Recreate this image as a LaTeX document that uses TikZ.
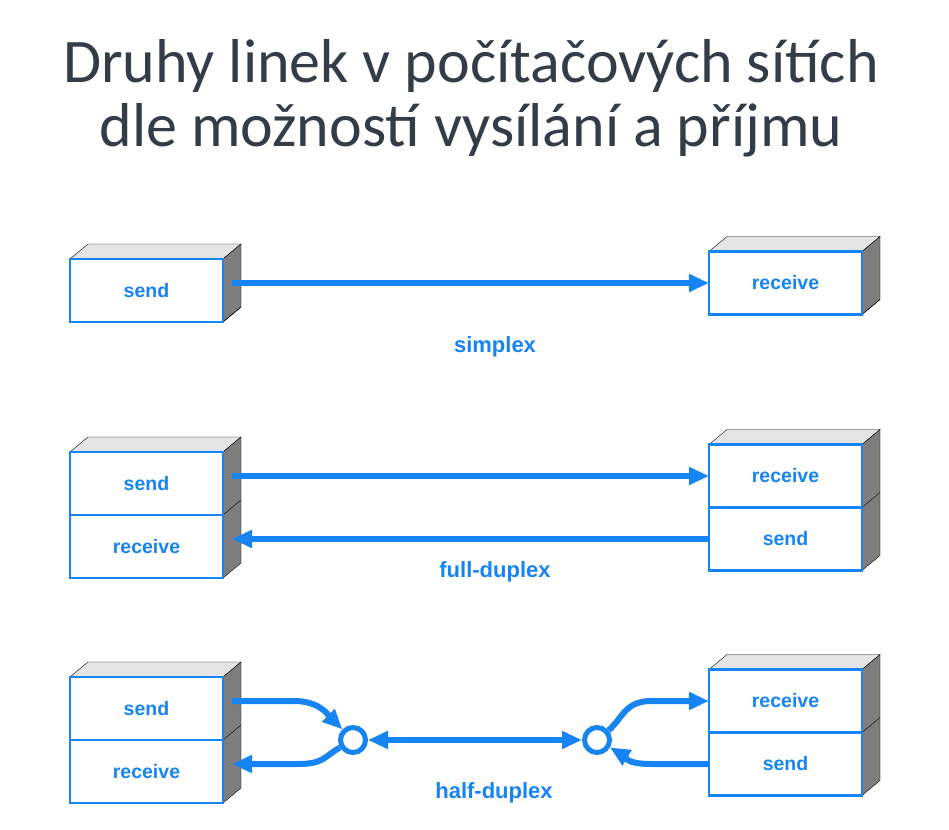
\documentclass[tikz,border=0pt]{standalone}
\usepackage{fontspec}
\setmainfont{Liberation Sans}
\newfontfamily\titlefont{Carlito}
\usetikzlibrary{arrows.meta,calc,positioning,backgrounds}

\definecolor{link_blue}{HTML}{1684F2}
\definecolor{title_grey}{HTML}{343C48}
\definecolor{top_grey}{HTML}{E4E4E4}
\definecolor{side_grey}{HTML}{7E7E7E}

\tikzset{
  headline/.style={text=title_grey, font=\titlefont\fontsize{62}{64}\selectfont, anchor=base},
  block/.style={draw=link_blue, line width=2.2pt, fill=white, minimum width=153pt,
    minimum height=63pt, inner sep=0pt, outer sep=0pt, text=link_blue,
    font=\fontsize{19.5}{20}\selectfont\bfseries},
  mode/.style={text=link_blue, font=\fontsize{22}{24}\selectfont\bfseries, anchor=base},
  wire/.style={draw=link_blue, line width=6pt},
  head/.style={-{Triangle[length=20pt,width=17pt]}},
  hub/.style={circle, draw=link_blue, line width=5pt, fill=white, minimum size=25pt, inner sep=0pt}
}

% top and side of a box, #1 = upper block, #2 = lower block
\newcommand\boxfaces[2]{
  \begin{scope}[on background layer, draw=black, line width=2pt]
    \filldraw[fill=top_grey] (#1.north west) -- ++(18,-15) -- ($(#1.north east)+(18,-15)$) -- (#1.north east) -- cycle;
    \filldraw[fill=side_grey] (#1.north east) -- ++(18,-15) -- ($(#2.south east)+(18,-15)$) -- (#2.south east) -- cycle;
    \draw (#1.south east) -- ++(18,-15);
  \end{scope}
}

\begin{document}
\begin{tikzpicture}[x=1pt,y=-1pt]
\useasboundingbox (0,0) rectangle (949,829);

% title
\node[headline] (title1) at (471,83) {Druhy linek v počítačových sítích};
\node[headline] (title2) at (471,147) {dle možností vysílání a příjmu};

% simplex
\node[block] (s_send) at (146.5,290.5) {send};
\node[block] (s_recv) at (785.5,283) {receive};
\boxfaces{s_send}{s_send}
\boxfaces{s_recv}{s_recv}
\coordinate (s_send_side) at ($(s_send.east)+(9,-7.5)$);
\draw[wire,head] (s_send_side) -- (s_recv.west);
\node[mode] (s_lab) at (495,352) {simplex};

% full-duplex
\node[block] (f_send) at (146.5,483.5) {send};
\node[block, below=0pt of f_send] (f_recv) {receive};
\node[block] (g_recv) at (785.5,476) {receive};
\node[block, below=0pt of g_recv] (g_send) {send};
\boxfaces{f_send}{f_recv}
\boxfaces{g_recv}{g_send}
\coordinate (f_send_side) at ($(f_send.east)+(9,-7.5)$);
\coordinate (f_recv_side) at ($(f_recv.east)+(9,-7.5)$);
\draw[wire,head] (f_send_side) -- (g_recv.west);
\draw[wire,head] (g_send.west) -- (f_recv_side);
\node[mode] (f_lab) at (495,577) {full-duplex};

% half-duplex
\node[block] (h_send) at (146.5,708.5) {send};
\node[block, below=0pt of h_send] (h_recv) {receive};
\node[block] (k_recv) at (785.5,701) {receive};
\node[block, below=0pt of k_recv] (k_send) {send};
\boxfaces{h_send}{h_recv}
\boxfaces{k_recv}{k_send}
\coordinate (h_send_side) at ($(h_send.east)+(9,-7.5)$);
\coordinate (h_recv_side) at ($(h_recv.east)+(9,-7.5)$);
\node[hub] (hub_l) at (353,740) {};
\node[hub] (hub_r) at (597,740) {};

\draw[wire,head] (h_send_side) -- ++(62,0) .. controls +(26,0) and ($(hub_l.135)+(-14,-14)$) .. (hub_l.135);
\draw[wire,head] (hub_l.210) .. controls ($(hub_l.210)+(-16,9)$) and ($(h_recv_side)+(92,0)$) .. ($(h_recv_side)+(66,0)$) -- (h_recv_side);
\draw[wire,head] (hub_r.40) .. controls ($(hub_r.40)+(14,-12)$) and ($(k_recv.west)+(-84,0)$) .. ($(k_recv.west)+(-58,0)$) -- (k_recv.west);
\draw[wire,head] (k_send.west) -- ++(-58,0) .. controls +(-26,0) and ($(hub_r.330)+(15,9)$) .. (hub_r.330);
\draw[wire,{Triangle[length=20pt,width=17pt]}-{Triangle[length=20pt,width=17pt]}] (hub_l) -- (hub_r);
\node[mode] (h_lab) at (494,798) {half-duplex};

\end{tikzpicture}
\end{document}
